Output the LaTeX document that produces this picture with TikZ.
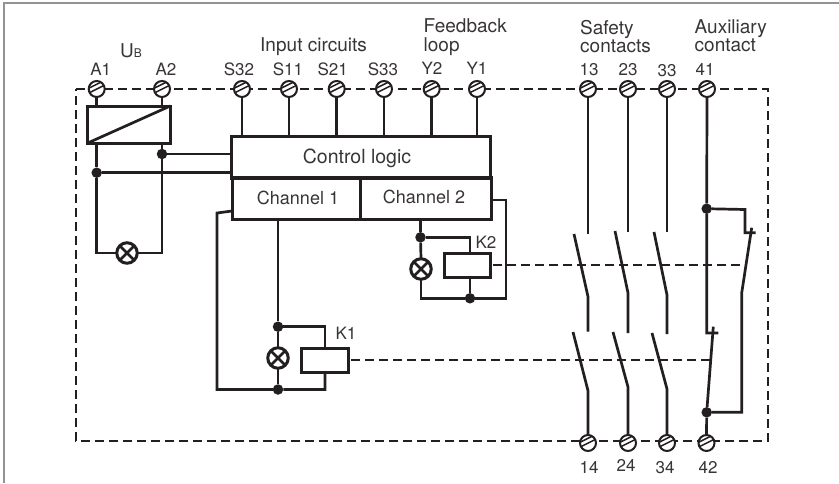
\documentclass[tikz,border=0pt]{standalone}
\usepackage{fontspec}
\setmainfont{TeX Gyre Heros}
\definecolor{ink}{HTML}{231F20}
\tikzset{
  x=1pt,y=-1pt,
  wire/.style={draw=ink,line width=2.7pt,line join=miter},
  linkage/.style={draw=ink,line width=2pt,dash pattern=on 9pt off 5pt},
  boxshape/.style={draw=ink,line width=3pt,rectangle,inner sep=0pt,outer sep=0pt,font=\fontsize{18}{18}\selectfont,text=ink!90},
  terminal/.style={circle,draw=ink,line width=2pt,fill=white,minimum size=16pt,inner sep=0pt,outer sep=0pt,
    path picture={
      \draw[ink,line width=1.5pt] ([shift={(-9,-0.2)}]path picture bounding box.center) -- ++(18,-9);
      \draw[ink,line width=1.5pt] ([shift={(-9,4.6)}]path picture bounding box.center) -- ++(18,-9);
    }},
  lamp/.style={circle,draw=ink,line width=3pt,fill=white,minimum size=20.5pt,inner sep=0pt,outer sep=0pt,
    path picture={
      \draw[ink,line width=2.6pt] ([shift={(-11,-11)}]path picture bounding box.center) -- ++(22,22);
      \draw[ink,line width=2.6pt] ([shift={(-11,11)}]path picture bounding box.center) -- ++(22,-22);
    }},
  dot/.style={circle,fill=ink,minimum size=10.5pt,inner sep=0pt,outer sep=0pt},
  lab/.style={anchor=base,inner sep=0pt,font=\fontsize{17}{17}\selectfont,text=ink!90},
  head/.style={anchor=base west,inner sep=0pt,font=\fontsize{19}{19}\selectfont,text=ink!90},
}
\begin{document}
\begin{tikzpicture}
\useasboundingbox (0,0) rectangle (839,483);
\fill[white] (0,0) rectangle (839,483);
% page frame
\coordinate (fa) at (839,2.5); \coordinate (fb) at (3.5,2.5); \coordinate (fc) at (3.5,483);
\draw[gray!85,line width=2pt] (fa) -- (fb) -- (fc);
% dashed enclosure
\coordinate (c1) at (76,89); \coordinate (c2) at (768,89); \coordinate (c3) at (768,441); \coordinate (c4) at (76,441);
\draw[linkage,line width=1.6pt] (c1) -- (c2) -- (c3) -- (c4) -- cycle;
% terminals top
\foreach \n/\x in {A1/96.7,A2/162,S32/242,S11/289,S21/336.7,S33/384,Y2/431.7,Y1/477,c13/588,c23/628,c33/667,c41/707}
  \node[terminal] (t\n) at (\x,89) {};
\foreach \n/\x in {c14/588,c24/628,c34/667,c42/706.5}
  \node[terminal] (t\n) at (\x,443) {};
% labels
\node[lab] at (100.7,75) {A1};
\node[lab] at (166,75) {A2};
\node[lab] at (239,75) {S32};
\node[lab] at (288,75) {S11};
\node[lab] at (332.7,75) {S21};
\node[lab] at (383,75) {S33};
\node[lab] at (432,74) {Y2};
\node[lab] at (477,74) {Y1};
\node[lab] at (589,75) {13};
\node[lab] at (628,75) {23};
\node[lab] at (667,76) {33};
\node[lab] at (705,75) {41};
\node[lab] at (589,473) {14};
\node[lab] at (626,471) {24};
\node[lab] at (665,473) {34};
\node[lab] at (708,473) {42};
\node[lab] at (346,339) {K1};
\node[lab] at (486,248) {K2};
\node[head] at (120,57) {U{\fontsize{12}{12}\selectfont B}};
\node[head] at (260,51) {Input circuits};
\node[head] at (423.5,32) {Feedback};
\node[head] at (423.5,51) {loop};
\node[head] at (580,34) {Safety};
\node[head] at (580,52) {contacts};
\node[head] at (694.5,33) {Auxiliary};
\node[head] at (694.5,51) {contact};
% boxes
\node[boxshape,minimum width=82.5pt,minimum height=37pt] (ps) at (129,124.5) {};
\node[boxshape,minimum width=259pt,minimum height=42pt] (logic) at (361.2,157) {};
\node[anchor=base,inner sep=0pt,font=\fontsize{19.5}{19.5}\selectfont,text=ink!90] (logictext) at (357,163) {Control logic};
\node[boxshape,minimum width=128pt,minimum height=41.5pt] (ch1) at (296,198.7) {};
\node[anchor=base,inner sep=0pt,font=\fontsize{18}{18}\selectfont,text=ink!90] (ch1text) at (298,204.5) {Channel 1};
\node[boxshape,minimum width=131pt,minimum height=41.5pt] (ch2) at (425.5,198.7) {};
\node[anchor=base,inner sep=0pt,font=\fontsize{18}{18}\selectfont,text=ink!90] (ch2text) at (424,203.5) {Channel 2};
\node[boxshape,minimum width=46.5pt,minimum height=24pt] (k1) at (325,360) {};
\node[boxshape,minimum width=46.5pt,minimum height=23.5pt] (k2) at (467.5,265.5) {};
\draw[wire] (ps.south west) -- (ps.north east);
% junctions and lamps
\node[dot] (d1) at (96.7,172.7) {};
\node[dot] (d2) at (162,154) {};
\node[lamp] (l0) at (127,253) {};
\node[dot] (d3) at (278,326.7) {};
\node[dot] (d4) at (278,389.5) {};
\node[lamp] (l1) at (278,358) {};
\node[dot] (d5) at (420.5,237.3) {};
\node[dot] (d6) at (470,298.3) {};
\node[lamp] (l2) at (421,269) {};
\node[dot] (d7) at (706.7,208.7) {};
\node[dot] (d8) at (706.7,412.3) {};
% top wires
\draw[wire] (tA1.south) -- (tA1.south |- ps.north);
\draw[wire] (tA2.south) -- (tA2.south |- ps.north);
\foreach \n in {S32,S11,S21,S33,Y2,Y1}
  \draw[wire] (t\n.south) -- (t\n.south |- logic.north);
% supply
\coordinate (a1b) at (tA1 |- ps.south);
\coordinate (a2b) at (tA2 |- ps.south);
\coordinate (c0l) at (tA1 |- l0);
\coordinate (c0r) at (tA2 |- l0);
\draw[wire] (a1b) -- (d1) -- (c0l) -- (l0.west);
\draw[wire] (a2b) -- (d2) -- (c0r) -- (l0.east);
\draw[wire] (d1) -- (d1 -| logic.west);
\draw[wire] (d2) -- (d2 -| logic.west);
% channel 1 and K1
\coordinate (la) at (232,211);
\coordinate (lb) at (217,213);
\coordinate (lc) at (217,389.5);
\coordinate (ld) at (k1.south |- lc);
\coordinate (le) at (k1.north |- d3);
\coordinate (c1o) at (d3 |- ch1.south);
\draw[wire] (la) -- (lb) -- (lc) -- (d4) -- (ld) -- (k1.south);
\draw[wire] (c1o) -- (d3) -- (l1.north);
\draw[wire] (l1.south) -- (d4);
\draw[wire] (d3) -- (le) -- (k1.north);
% channel 2 and K2
\coordinate (c2o) at (d5 |- ch2.south);
\coordinate (me) at (470,237.3);
\coordinate (mk) at (470,253.75);
\coordinate (mb) at (470,277.25);
\coordinate (mf) at (421,298.3);
\coordinate (mg) at (506,298.3);
\coordinate (mh) at (506,200);
\coordinate (mi) at (491,200);
\draw[wire] (c2o) -- (d5) -- (l2.north);
\draw[wire] (d5) -- (me) -- (mk);
\draw[wire] (l2.south) -- (mf) -- (d6) -- (mg) -- (mh) -- (mi);
\draw[wire] (mb) -- (d6);
% actuation links
\coordinate (lk1) at (710,360);
\coordinate (lk2) at (745,264.5);
\coordinate (lk1s) at (351,360);
\coordinate (lk2s) at (493,264.5);
\draw[linkage] (lk1s) -- (lk1);
\draw[linkage] (lk2s) -- (lk2);
% safety contacts: upper fixed, upper blade, lower blade
\coordinate (s1a) at (588,234); \coordinate (s1b) at (574,234); \coordinate (s1c) at (588,296.7);
\coordinate (s1d) at (588,331.7); \coordinate (s1e) at (573,332); \coordinate (s1f) at (588,390.7);
\coordinate (s2a) at (628,231.7); \coordinate (s2b) at (615,231); \coordinate (s2c) at (628,293);
\coordinate (s2d) at (628,333); \coordinate (s2e) at (613,332); \coordinate (s2f) at (628,387);
\coordinate (s3a) at (667,232); \coordinate (s3b) at (654,232); \coordinate (s3c) at (667,295);
\coordinate (s3d) at (667,334); \coordinate (s3e) at (652,333); \coordinate (s3f) at (667,389);
\draw[wire] (tc13.south) -- (s1a);
\draw[wire] (s1b) -- (s1c) -- (s1d);
\draw[wire] (s1e) -- (s1f) -- (tc14.north);
\draw[wire] (tc23.south) -- (s2a);
\draw[wire] (s2b) -- (s2c) -- (s2d);
\draw[wire] (s2e) -- (s2f) -- (tc24.north);
\draw[wire] (tc33.south) -- (s3a);
\draw[wire] (s3b) -- (s3c) -- (s3d);
\draw[wire] (s3e) -- (s3f) -- (tc34.north);
% auxiliary contact
\coordinate (x1) at (745,209.5); \coordinate (x2) at (745,232.7); \coordinate (x3) at (755.7,232.7);
\coordinate (x4) at (751.7,227.7); \coordinate (x5) at (741.7,293);
\coordinate (x6) at (741.7,412.3);
\coordinate (x7) at (706.7,333); \coordinate (x8) at (718.3,333);
\coordinate (x9) at (713.3,326.7);
\draw[wire] (tc41.south) -- (d7) -- (x7) -- (x8);
\draw[wire] (d7) -- (x1) -- (x2) -- (x3);
\draw[wire] (x4) -- (x5) -- (x6) -- (d8);
\draw[wire] (x9) -- (d8);
\draw[wire] (d8) -- (tc42.north);
\end{tikzpicture}
\end{document}
